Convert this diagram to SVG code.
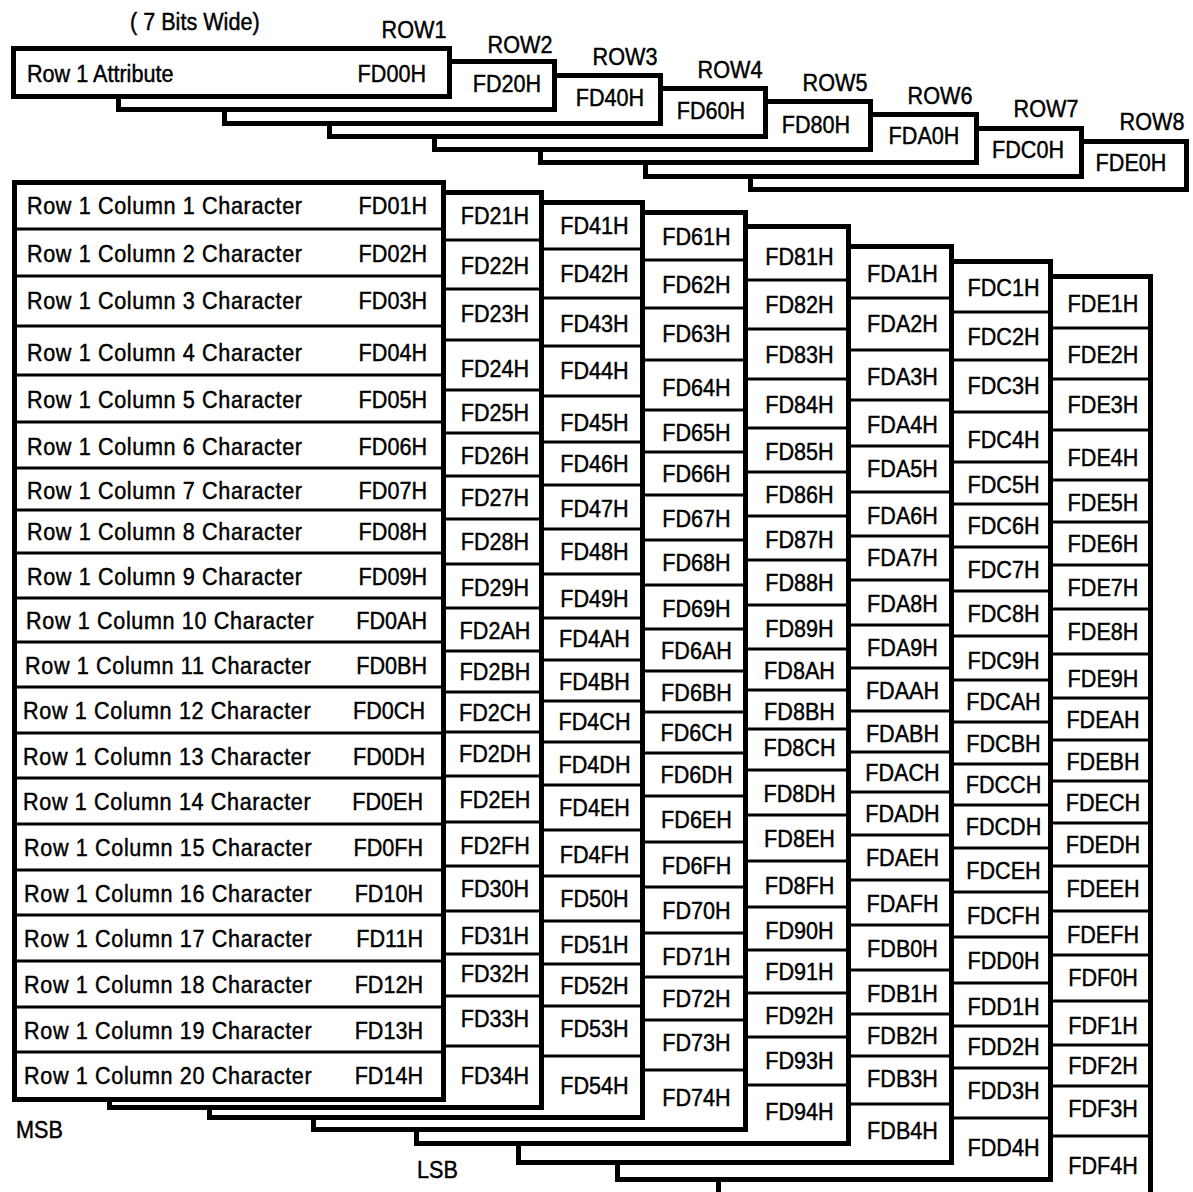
<svg xmlns="http://www.w3.org/2000/svg" width="1193" height="1192" viewBox="0 0 1193 1192">
<style>
.box{fill:#fff;stroke:#000;stroke-width:5}
.sep{fill:none;stroke:#000;stroke-width:3}
text{font-family:"Liberation Sans",Arial,Helvetica,sans-serif;font-size:24px;fill:#000;stroke:#000;stroke-width:0.45px}
.m{text-anchor:middle}
.e{text-anchor:end}
.rl{letter-spacing:0.7px}
</style>
<rect width="1193" height="1192" fill="#fff"/>
<text transform="translate(130 30) scale(0.9 1)">( 7 Bits Wide)</text>
<g id="row-labels">
<text class="m" transform="translate(414 38) scale(0.9 1)">ROW1</text>
<text class="m" transform="translate(520 53) scale(0.9 1)">ROW2</text>
<text class="m" transform="translate(625 65) scale(0.9 1)">ROW3</text>
<text class="m" transform="translate(730 78) scale(0.9 1)">ROW4</text>
<text class="m" transform="translate(835 91) scale(0.9 1)">ROW5</text>
<text class="m" transform="translate(940 104) scale(0.9 1)">ROW6</text>
<text class="m" transform="translate(1046 117) scale(0.9 1)">ROW7</text>
<text class="m" transform="translate(1152 130) scale(0.9 1)">ROW8</text>
</g>
<g id="attr-row8"><rect class="box" x="750.5" y="141.5" width="436" height="48"/><text class="m" transform="translate(1131 171) scale(0.9 1)">FDE0H</text></g>
<g id="attr-row7"><rect class="box" x="645.5" y="128.5" width="436" height="48"/><text class="m" transform="translate(1028 158) scale(0.9 1)">FDC0H</text></g>
<g id="attr-row6"><rect class="box" x="540.5" y="114.5" width="436" height="48"/><text class="m" transform="translate(924 144) scale(0.9 1)">FDA0H</text></g>
<g id="attr-row5"><rect class="box" x="434.5" y="101.5" width="436" height="48"/><text class="m" transform="translate(816 133) scale(0.9 1)">FD80H</text></g>
<g id="attr-row4"><rect class="box" x="329.5" y="88.5" width="436" height="48"/><text class="m" transform="translate(711 119) scale(0.9 1)">FD60H</text></g>
<g id="attr-row3"><rect class="box" x="224.5" y="75.5" width="436" height="48"/><text class="m" transform="translate(610 106) scale(0.9 1)">FD40H</text></g>
<g id="attr-row2"><rect class="box" x="118.5" y="61.5" width="436" height="48"/><text class="m" transform="translate(507 92) scale(0.9 1)">FD20H</text></g>
<g id="attr-row1"><rect class="box" x="13.5" y="48.5" width="436" height="48"/><text transform="translate(27 82) scale(0.9 1)">Row 1 Attribute</text><text class="e" transform="translate(426 82) scale(0.9 1)">FD00H</text></g>

<g id="chars-row8">
<rect class="box" x="718.5" y="276.5" width="432" height="946"/>
<path class="sep" d="M718.5 328H1150.5M718.5 379H1150.5M718.5 430H1150.5M718.5 480H1150.5M718.5 522H1150.5M718.5 565H1150.5M718.5 609H1150.5M718.5 654H1150.5M718.5 698H1150.5M718.5 740H1150.5M718.5 781H1150.5M718.5 823H1150.5M718.5 866H1150.5M718.5 911H1150.5M718.5 955H1150.5M718.5 1001H1150.5M718.5 1045H1150.5M718.5 1086H1150.5M718.5 1136H1150.5"/>
<g class="m" transform="translate(1103 1) scale(0.9 1)">
<text class="m" y="311">FDE1H</text><text class="m" y="362">FDE2H</text><text class="m" y="412">FDE3H</text><text class="m" y="465">FDE4H</text><text class="m" y="510">FDE5H</text><text class="m" y="551">FDE6H</text><text class="m" y="595">FDE7H</text><text class="m" y="639">FDE8H</text><text class="m" y="686">FDE9H</text><text class="m" y="727">FDEAH</text><text class="m" y="769">FDEBH</text><text class="m" y="810">FDECH</text><text class="m" y="852">FDEDH</text><text class="m" y="896">FDEEH</text><text class="m" y="942">FDEFH</text><text class="m" y="985">FDF0H</text><text class="m" y="1033">FDF1H</text><text class="m" y="1073">FDF2H</text><text class="m" y="1116">FDF3H</text><text class="m" y="1173">FDF4H</text>
</g>
</g>
<g id="chars-row7">
<rect class="box" x="617.5" y="261.5" width="433" height="918"/>
<path class="sep" d="M617.5 312H1050.5M617.5 360H1050.5M617.5 412H1050.5M617.5 462H1050.5M617.5 504H1050.5M617.5 547H1050.5M617.5 591H1050.5M617.5 636H1050.5M617.5 680H1050.5M617.5 722H1050.5M617.5 764H1050.5M617.5 805H1050.5M617.5 848H1050.5M617.5 892H1050.5M617.5 937H1050.5M617.5 983H1050.5M617.5 1026H1050.5M617.5 1068H1050.5M617.5 1118H1050.5"/>
<g transform="translate(1003.5 1) scale(0.9 1)">
<text class="m" y="295">FDC1H</text><text class="m" y="344">FDC2H</text><text class="m" y="393">FDC3H</text><text class="m" y="447">FDC4H</text><text class="m" y="492">FDC5H</text><text class="m" y="533">FDC6H</text><text class="m" y="577">FDC7H</text><text class="m" y="621">FDC8H</text><text class="m" y="668">FDC9H</text><text class="m" y="709">FDCAH</text><text class="m" y="751">FDCBH</text><text class="m" y="792">FDCCH</text><text class="m" y="834">FDCDH</text><text class="m" y="878">FDCEH</text><text class="m" y="923">FDCFH</text><text class="m" y="968">FDD0H</text><text class="m" y="1014">FDD1H</text><text class="m" y="1054">FDD2H</text><text class="m" y="1098">FDD3H</text><text class="m" y="1155">FDD4H</text>
</g>
</g>
<g id="chars-row6">
<rect class="box" x="518.5" y="246.5" width="433" height="916"/>
<path class="sep" d="M518.5 298H951.5M518.5 350H951.5M518.5 400H951.5M518.5 446H951.5M518.5 492H951.5M518.5 536H951.5M518.5 580H951.5M518.5 625H951.5M518.5 668H951.5M518.5 711H951.5M518.5 752H951.5M518.5 792H951.5M518.5 835H951.5M518.5 880H951.5M518.5 925H951.5M518.5 970H951.5M518.5 1014H951.5M518.5 1056H951.5M518.5 1104H951.5"/>
<g transform="translate(902.5 1) scale(0.9 1)">
<text class="m" y="281">FDA1H</text><text class="m" y="331">FDA2H</text><text class="m" y="384">FDA3H</text><text class="m" y="432">FDA4H</text><text class="m" y="476">FDA5H</text><text class="m" y="523">FDA6H</text><text class="m" y="565">FDA7H</text><text class="m" y="611">FDA8H</text><text class="m" y="655">FDA9H</text><text class="m" y="698">FDAAH</text><text class="m" y="741">FDABH</text><text class="m" y="780">FDACH</text><text class="m" y="821">FDADH</text><text class="m" y="865">FDAEH</text><text class="m" y="911">FDAFH</text><text class="m" y="956">FDB0H</text><text class="m" y="1001">FDB1H</text><text class="m" y="1043">FDB2H</text><text class="m" y="1086">FDB3H</text><text class="m" y="1138">FDB4H</text>
</g>
</g>
<g id="chars-row5">
<rect class="box" x="416.5" y="226.5" width="432" height="917"/>
<path class="sep" d="M416.5 280H848.5M416.5 329H848.5M416.5 379H848.5M416.5 428H848.5M416.5 472H848.5M416.5 516H848.5M416.5 560H848.5M416.5 605H848.5M416.5 649H848.5M416.5 690H848.5M416.5 729H848.5M416.5 770H848.5M416.5 815H848.5M416.5 861H848.5M416.5 907H848.5M416.5 950H848.5M416.5 993H848.5M416.5 1037H848.5M416.5 1085H848.5"/>
<g transform="translate(799.5 1) scale(0.9 1)">
<text class="m" y="264">FD81H</text><text class="m" y="312">FD82H</text><text class="m" y="362">FD83H</text><text class="m" y="412">FD84H</text><text class="m" y="459">FD85H</text><text class="m" y="502">FD86H</text><text class="m" y="547">FD87H</text><text class="m" y="590">FD88H</text><text class="m" y="636">FD89H</text><text class="m" y="678">FD8AH</text><text class="m" y="719">FD8BH</text><text class="m" y="755">FD8CH</text><text class="m" y="801">FD8DH</text><text class="m" y="846">FD8EH</text><text class="m" y="893">FD8FH</text><text class="m" y="938">FD90H</text><text class="m" y="979">FD91H</text><text class="m" y="1023">FD92H</text><text class="m" y="1068">FD93H</text><text class="m" y="1119">FD94H</text>
</g>
</g>
<g id="chars-row4">
<rect class="box" x="313.5" y="212.5" width="432" height="917"/>
<path class="sep" d="M313.5 260H745.5M313.5 308H745.5M313.5 360H745.5M313.5 410H745.5M313.5 452H745.5M313.5 495H745.5M313.5 540H745.5M313.5 585H745.5M313.5 629H745.5M313.5 671H745.5M313.5 712H745.5M313.5 753H745.5M313.5 796H745.5M313.5 842H745.5M313.5 887H745.5M313.5 933H745.5M313.5 977H745.5M313.5 1020H745.5M313.5 1070H745.5"/>
<g transform="translate(696.5 1) scale(0.9 1)">
<text class="m" y="244">FD61H</text><text class="m" y="292">FD62H</text><text class="m" y="341">FD63H</text><text class="m" y="395">FD64H</text><text class="m" y="440">FD65H</text><text class="m" y="481">FD66H</text><text class="m" y="526">FD67H</text><text class="m" y="570">FD68H</text><text class="m" y="616">FD69H</text><text class="m" y="658">FD6AH</text><text class="m" y="700">FD6BH</text><text class="m" y="740">FD6CH</text><text class="m" y="782">FD6DH</text><text class="m" y="827">FD6EH</text><text class="m" y="873">FD6FH</text><text class="m" y="918">FD70H</text><text class="m" y="964">FD71H</text><text class="m" y="1006">FD72H</text><text class="m" y="1050">FD73H</text><text class="m" y="1105">FD74H</text>
</g>
</g>
<g id="chars-row3">
<rect class="box" x="209.5" y="202.5" width="433" height="915"/>
<path class="sep" d="M209.5 249H642.5M209.5 298H642.5M209.5 346H642.5M209.5 396H642.5M209.5 442H642.5M209.5 485H642.5M209.5 529H642.5M209.5 574H642.5M209.5 618H642.5M209.5 660H642.5M209.5 701H642.5M209.5 742H642.5M209.5 785H642.5M209.5 830H642.5M209.5 876H642.5M209.5 921H642.5M209.5 964H642.5M209.5 1006H642.5M209.5 1056H642.5"/>
<g transform="translate(594.5 1) scale(0.9 1)">
<text class="m" y="233">FD41H</text><text class="m" y="281">FD42H</text><text class="m" y="331">FD43H</text><text class="m" y="378">FD44H</text><text class="m" y="430">FD45H</text><text class="m" y="471">FD46H</text><text class="m" y="516">FD47H</text><text class="m" y="559">FD48H</text><text class="m" y="606">FD49H</text><text class="m" y="646">FD4AH</text><text class="m" y="689">FD4BH</text><text class="m" y="729">FD4CH</text><text class="m" y="772">FD4DH</text><text class="m" y="815">FD4EH</text><text class="m" y="862">FD4FH</text><text class="m" y="906">FD50H</text><text class="m" y="952">FD51H</text><text class="m" y="993">FD52H</text><text class="m" y="1036">FD53H</text><text class="m" y="1093">FD54H</text>
</g>
</g>
<g id="chars-row2">
<rect class="box" x="109.5" y="192.5" width="432" height="915"/>
<path class="sep" d="M109.5 240H541.5M109.5 289H541.5M109.5 340H541.5M109.5 390H541.5M109.5 433H541.5M109.5 476H541.5M109.5 519H541.5M109.5 564H541.5M109.5 608H541.5M109.5 651H541.5M109.5 692H541.5M109.5 732H541.5M109.5 776H541.5M109.5 822H541.5M109.5 866H541.5M109.5 911H541.5M109.5 954H541.5M109.5 996H541.5M109.5 1046H541.5"/>
<g transform="translate(495 1) scale(0.9 1)">
<text class="m" y="223">FD21H</text><text class="m" y="273">FD22H</text><text class="m" y="321">FD23H</text><text class="m" y="376">FD24H</text><text class="m" y="420">FD25H</text><text class="m" y="463">FD26H</text><text class="m" y="505">FD27H</text><text class="m" y="549">FD28H</text><text class="m" y="595">FD29H</text><text class="m" y="638">FD2AH</text><text class="m" y="679">FD2BH</text><text class="m" y="720">FD2CH</text><text class="m" y="761">FD2DH</text><text class="m" y="807">FD2EH</text><text class="m" y="853">FD2FH</text><text class="m" y="896">FD30H</text><text class="m" y="943">FD31H</text><text class="m" y="981">FD32H</text><text class="m" y="1026">FD33H</text><text class="m" y="1083">FD34H</text>
</g>
</g>
<g id="chars-row1">
<rect class="box" x="14.5" y="182.5" width="429" height="917"/>
<path class="sep" d="M14.5 229H443.5M14.5 276H443.5M14.5 326H443.5M14.5 375H443.5M14.5 422H443.5M14.5 468H443.5M14.5 510H443.5M14.5 553H443.5M14.5 598H443.5M14.5 642H443.5M14.5 687H443.5M14.5 733H443.5M14.5 778H443.5M14.5 824H443.5M14.5 870H443.5M14.5 915H443.5M14.5 961H443.5M14.5 1007H443.5M14.5 1052H443.5"/>
<g transform="translate(27 1) scale(0.9 1)">
<text class="rl" x="0" y="213">Row 1 Column 1 Character</text>
<text class="rl" x="0" y="261">Row 1 Column 2 Character</text>
<text class="rl" x="0" y="308">Row 1 Column 3 Character</text>
<text class="rl" x="0" y="360">Row 1 Column 4 Character</text>
<text class="rl" x="0" y="407">Row 1 Column 5 Character</text>
<text class="rl" x="0" y="454">Row 1 Column 6 Character</text>
<text class="rl" x="0" y="498">Row 1 Column 7 Character</text>
<text class="rl" x="0" y="539">Row 1 Column 8 Character</text>
<text class="rl" x="0" y="584">Row 1 Column 9 Character</text>
<text class="rl" x="-1.1" y="628">Row 1 Column 10 Character</text>
<text class="rl" x="-2.2" y="673">Row 1 Column 11 Character</text>
<text class="rl" x="-4.4" y="718">Row 1 Column 12 Character</text>
<text class="rl" x="-4.4" y="764">Row 1 Column 13 Character</text>
<text class="rl" x="-4.4" y="809">Row 1 Column 14 Character</text>
<text class="rl" x="-3.3" y="855">Row 1 Column 15 Character</text>
<text class="rl" x="-3.3" y="901">Row 1 Column 16 Character</text>
<text class="rl" x="-3.3" y="946">Row 1 Column 17 Character</text>
<text class="rl" x="-3.3" y="992">Row 1 Column 18 Character</text>
<text class="rl" x="-3.3" y="1038">Row 1 Column 19 Character</text>
<text class="rl" x="-3.3" y="1083">Row 1 Column 20 Character</text>
</g>
<g transform="translate(427 1) scale(0.9 1)">
<text class="e" x="0" y="213">FD01H</text>
<text class="e" x="0" y="261">FD02H</text>
<text class="e" x="0" y="308">FD03H</text>
<text class="e" x="0" y="360">FD04H</text>
<text class="e" x="0" y="407">FD05H</text>
<text class="e" x="0" y="454">FD06H</text>
<text class="e" x="0" y="498">FD07H</text>
<text class="e" x="0" y="539">FD08H</text>
<text class="e" x="0" y="584">FD09H</text>
<text class="e" x="0" y="628">FD0AH</text>
<text class="e" x="0" y="673">FD0BH</text>
<text class="e" x="-2.2" y="718">FD0CH</text>
<text class="e" x="-2.2" y="764">FD0DH</text>
<text class="e" x="-4.4" y="809">FD0EH</text>
<text class="e" x="-4.4" y="855">FD0FH</text>
<text class="e" x="-4.4" y="901">FD10H</text>
<text class="e" x="-4.4" y="946">FD11H</text>
<text class="e" x="-4.4" y="992">FD12H</text>
<text class="e" x="-4.4" y="1038">FD13H</text>
<text class="e" x="-4.4" y="1083">FD14H</text>
</g>
</g>
<text transform="translate(16 1138) scale(0.9 1)">MSB</text>
<text transform="translate(417 1178) scale(0.9 1)">LSB</text>
</svg>
